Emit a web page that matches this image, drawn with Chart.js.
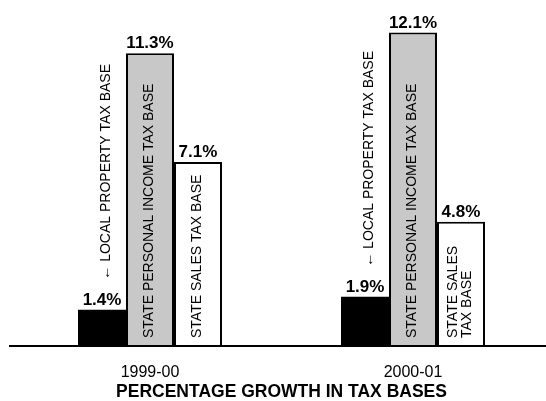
<!DOCTYPE html>
<html>
<head>
<meta charset="utf-8">
<script src="https://cdn.jsdelivr.net/npm/chart.js@4.4.1/dist/chart.umd.min.js"></script>
<style>
html,body{margin:0;padding:0;background:#fff;}
#wrap{width:546px;height:401px;position:relative;}
</style>
</head>
<body>
<div id="wrap"><canvas id="c" width="546" height="401"></canvas></div>
<script>
const categories = ['1999-00', '2000-01'];
const localProperty = [1.4, 1.9];
const stateIncome = [11.3, 12.1];
const stateSales = [7.1, 4.8];
const valueSuffix = '%';
const chartTitle = 'PERCENTAGE GROWTH IN TAX BASES';
// text lines written alongside each bar, per series, per category
const localPropertyText = [['← LOCAL PROPERTY TAX BASE'], ['← LOCAL PROPERTY TAX BASE']];
const stateIncomeText = [['STATE PERSONAL INCOME TAX BASE'], ['STATE PERSONAL INCOME TAX BASE']];
const stateSalesText = [['STATE SALES TAX BASE'], ['STATE SALES', 'TAX BASE']];

const FONT = '"Liberation Sans", Arial, Helvetica, sans-serif';

const barTextPlugin = {
  id: 'barText',
  afterDatasetsDraw(chart) {
    const ctx = chart.ctx;
    const yScale = chart.scales.y;
    const base = yScale.getPixelForValue(0);
    chart.data.datasets.forEach((ds, di) => {
      const meta = chart.getDatasetMeta(di);
      meta.data.forEach((bar, i) => {
        const v = ds.data[i];
        ctx.save();
        ctx.fillStyle = '#000';
        ctx.font = 'bold 17px ' + FONT;
        ctx.textAlign = 'center';
        ctx.textBaseline = 'alphabetic';
        ctx.fillText(v.toFixed(1) + valueSuffix, bar.x, bar.y - 5);
        ctx.restore();
        const lines = ds.barText[i];
        ctx.save();
        ctx.fillStyle = '#000';
        ctx.font = '14px ' + FONT;
        ctx.textBaseline = 'middle';
        ctx.textAlign = 'left';
        let startY, cx;
        if (ds.textAbove) {
          startY = bar.y - 30;
          cx = bar.x + 4;
        } else {
          startY = base - 8;
          cx = bar.x - 1;
        }
        const lh = 13.5;
        const n = lines.length;
        lines.forEach((ln, li) => {
          const off = (li - (n - 1) / 2) * lh;
          ctx.save();
          ctx.translate(cx + off, startY);
          ctx.rotate(-Math.PI / 2);
          ctx.fillText(ln, 0, 0);
          ctx.restore();
        });
        ctx.restore();
      });
    });
    ctx.save();
    ctx.strokeStyle = '#000';
    ctx.lineWidth = 2;
    ctx.beginPath();
    ctx.moveTo(9, base);
    ctx.lineTo(chart.width, base);
    ctx.stroke();
    ctx.restore();
  }
};

new Chart(document.getElementById('c'), {
  type: 'bar',
  data: {
    labels: categories,
    datasets: [
      { label: 'Local property', data: localProperty, backgroundColor: '#000', borderColor: '#000', borderWidth: 0, barText: localPropertyText, textAbove: true },
      { label: 'State personal income', data: stateIncome, backgroundColor: '#c8c8c8', borderColor: '#000', borderWidth: 2, barText: stateIncomeText },
      { label: 'State sales', data: stateSales, backgroundColor: '#fff', borderColor: '#000', borderWidth: 2, barText: stateSalesText }
    ]
  },
  options: {
    responsive: false,
    animation: false,
    devicePixelRatio: 1,
    layout: { padding: { top: 9.3, left: 18.5, right: 1.5, bottom: 0 } },
    datasets: { bar: { categoryPercentage: 0.5475, barPercentage: 1.0 } },
    plugins: {
      legend: { display: false },
      tooltip: { enabled: false },
      title: {
        display: true,
        position: 'bottom',
        text: chartTitle,
        color: '#000',
        font: { family: FONT, size: 17.5, weight: 'bold', lineHeight: 1.0 },
        padding: { top: 0, bottom: 0 }
      }
    },
    scales: {
      x: {
        grid: { display: false, drawTicks: false },
        border: { display: false },
        ticks: { color: '#000', font: { family: FONT, size: 16 }, padding: 17 },
        afterFit(scale) { scale.height = 37.5; }
      },
      y: {
        display: false,
        min: 0,
        max: 13
      }
    }
  },
  plugins: [barTextPlugin]
});
</script>
</body>
</html>
